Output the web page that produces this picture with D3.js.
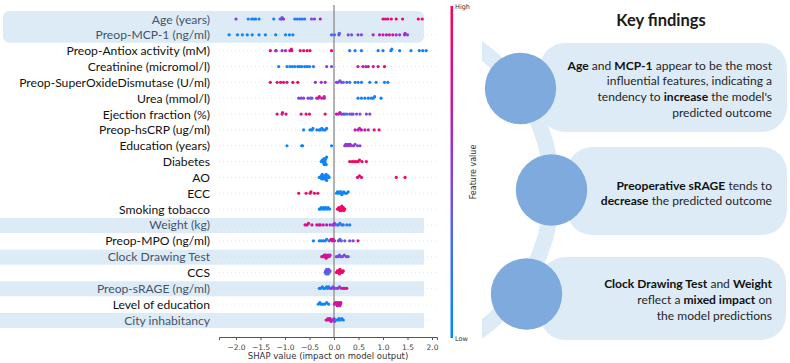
<!DOCTYPE html>
<html lang="en">
<head>
<meta charset="utf-8">
<title>SHAP summary</title>
<script src="https://d3js.org/d3.v7.min.js"></script>
<style>
  body { margin: 0; background: #fff; }
  svg { display: block; font-family: Lato, "Open Sans", sans-serif; }
</style>
</head>
<body>
<svg id="chart" width="790" height="363"></svg>
<script>
// Features, top to bottom
const features = [
  "Age (years)", "Preop-MCP-1 (ng/ml)", "Preop-Antiox activity (mM)", "Creatinine (micromol/l)",
  "Preop-SuperOxideDismutase (U/ml)", "Urea (mmol/l)", "Ejection fraction (%)", "Preop-hsCRP (ug/ml)",
  "Education (years)", "Diabetes", "AO", "ECC", "Smoking tobacco", "Weight (kg)", "Preop-MPO (ng/ml)",
  "Clock Drawing Test", "CCS", "Preop-sRAGE (ng/ml)", "Level of education", "City inhabitancy"
];
const highlighted = ["Age (years)", "Preop-MCP-1 (ng/ml)", "Weight (kg)", "Clock Drawing Test", "Preop-sRAGE (ng/ml)", "City inhabitancy"];

// [shap value, feature value 0..1] per feature
const points = [
  [[-2.0,.5],[-1.75,.1],[-1.68,.1],[-1.64,.15],[-1.6,.1],[-1.53,.1],[-1.23,.15],[-1.1,.35],[-1.07,.5],[-1.06,.15],[-1.03,.6],[-0.8,.15],[-0.75,.2],[-0.7,.1],[-0.65,.2],[-0.6,.15],[-0.46,.45],[-0.4,.5],[-0.28,.7],[1.0,.85],[1.05,.9],[1.1,.85],[1.17,.9],[1.27,.95],[1.4,.9],[1.72,.95],[1.8,.9]],
  [[-2.14,.05],[-1.97,.05],[-1.87,.05],[-1.77,.05],[-1.67,.05],[-1.53,.05],[-1.4,.05],[-1.19,.05],[-0.99,.05],[-0.91,.05],[-0.84,.05],[-0.05,.3],[0.01,.3],[0.1,.45],[0.11,.3],[0.29,.45],[0.36,.4],[0.49,.5],[0.56,.45],[0.8,.6],[0.93,.7],[1.0,.75],[1.07,.7],[1.13,.75],[1.2,.8],[1.27,.6],[1.34,.5],[1.44,.55],[1.45,.6],[1.5,.5]],
  [[-1.3,.85],[-1.19,.7],[-1.18,.55],[-1.06,.55],[-0.99,.6],[-0.9,.8],[-0.87,.75],[-0.86,.85],[-0.69,.9],[-0.62,.85],[-0.55,.9],[-0.49,.85],[-0.05,.85],[0.32,.1],[0.43,.1],[0.56,.05],[0.9,.1],[1.0,.1],[1.16,.05],[1.18,.1],[1.34,.05],[1.57,.05],[1.74,.05],[1.81,.05],[1.88,.05]],
  [[-1.13,.05],[-0.96,.05],[-0.9,.1],[-0.85,.05],[-0.8,.05],[-0.74,.1],[-0.7,.05],[-0.66,.05],[-0.6,.1],[-0.55,.05],[-0.5,.05],[-0.42,.1],[-0.15,.5],[-0.05,.4],[0.49,.7],[0.59,.8],[0.65,.6],[0.7,.75],[0.8,.7],[0.9,.8],[1.03,.95]],
  [[-1.3,.9],[-1.16,.85],[-1.09,.9],[-1.03,.85],[-0.96,.8],[-0.84,.85],[-0.74,.9],[-0.38,.6],[-0.26,.55],[-0.18,.6],[0.05,.5],[0.08,.45],[0.12,.4],[0.15,.45],[0.19,.35],[0.26,.3],[0.32,.2],[0.43,.15],[0.49,.15],[0.56,.1],[0.73,.05],[0.86,.05],[1.03,.05],[1.1,.05]],
  [[-0.72,.45],[-0.67,.5],[-0.62,.55],[-0.53,.4],[-0.48,.5],[-0.45,.35],[-0.35,.8],[-0.32,.6],[-0.3,.85],[-0.25,.7],[-0.2,.8],[-0.2,.6],[0.49,.1],[0.56,.05],[0.63,.1],[0.7,.05],[0.76,.05],[0.8,.1],[0.83,.05],[0.96,.05]],
  [[-1.16,.85],[-1.06,.8],[-1.05,.9],[-0.98,.85],[-0.67,.85],[-0.57,.9],[-0.5,.85],[-0.18,.9],[0.05,.8],[0.09,.7],[0.12,.65],[0.15,.6],[0.19,.55],[0.22,.3],[0.26,.2],[0.32,.4],[0.36,.5],[0.39,.45],[0.46,.4],[0.53,.5],[0.66,.45],[0.73,.5]],
  [[-0.62,.05],[-0.49,.05],[-0.45,.1],[-0.43,.05],[-0.35,.05],[-0.3,.1],[-0.28,.05],[-0.25,.05],[-0.22,.05],[-0.18,.05],[-0.15,.1],[0.43,.7],[0.49,.75],[0.52,.6],[0.56,.8],[0.63,.7],[0.7,.65],[0.82,.85],[0.92,.9]],
  [[-0.96,.05],[-0.66,.05],[-0.64,.1],[-0.05,.05],[0.22,.5],[0.24,.6],[0.26,.45],[0.29,.55],[0.31,.5],[0.33,.65],[0.36,.45],[0.4,.55],[0.43,.5],[0.48,.45],[0.53,.5]],
  [[-0.26,.05],[-0.24,.05],[-0.23,.05],[-0.22,.05],[-0.21,.05],[-0.2,.05],[-0.2,.05],[-0.19,.05],[-0.18,.05],[-0.18,.05],[-0.17,.05],[-0.16,.05],[-0.15,.05],[0.32,.95],[0.37,.95],[0.41,.95],[0.45,.95],[0.49,.95],[0.52,.95],[0.57,.95],[0.66,.95]],
  [[-0.3,.05],[-0.28,.05],[-0.26,.05],[-0.25,.05],[-0.24,.05],[-0.22,.05],[-0.21,.05],[-0.2,.05],[-0.19,.05],[-0.18,.05],[-0.17,.05],[-0.16,.05],[-0.15,.05],[-0.13,.05],[-0.12,.05],[-0.1,.05],[0.48,.85],[0.52,.9],[0.56,.9],[1.27,.95],[1.45,.95]],
  [[-0.72,.9],[-0.57,.9],[-0.49,.85],[-0.47,.9],[-0.4,.9],[-0.33,.9],[0.05,.05],[0.07,.05],[0.09,.05],[0.11,.05],[0.13,.05],[0.14,.05],[0.16,.05],[0.18,.05],[0.2,.05],[0.23,.05],[0.26,.05],[0.29,.05]],
  [[-0.3,.05],[-0.28,.05],[-0.26,.05],[-0.23,.05],[-0.21,.05],[-0.19,.05],[-0.17,.05],[-0.14,.05],[-0.12,.05],[-0.09,.05],[0.07,.95],[0.09,.95],[0.1,.95],[0.12,.95],[0.13,.95],[0.14,.95],[0.15,.95],[0.16,.95],[0.17,.95],[0.19,.95],[0.2,.95],[0.22,.95]],
  [[-0.59,.8],[-0.55,.85],[-0.52,.8],[-0.45,.85],[-0.35,.8],[-0.3,.75],[-0.28,.8],[-0.22,.7],[-0.15,.75],[-0.08,.6],[-0.03,.55],[0.0,.5],[0.01,.6],[0.05,.3],[0.09,.2],[0.12,.15],[0.16,.1],[0.19,.2],[0.26,.15],[0.32,.1]],
  [[-0.42,.05],[-0.3,.1],[-0.26,.05],[-0.22,.1],[-0.18,.05],[-0.15,.1],[-0.1,.3],[-0.06,.8],[-0.04,.75],[-0.02,.85],[0.01,.6],[0.09,.45],[0.12,.3],[0.15,.35],[0.22,.4],[0.32,.45],[0.39,.5],[0.49,.8]],
  [[-0.25,.8],[-0.22,.85],[-0.2,.8],[-0.18,.75],[-0.17,.8],[-0.16,.85],[-0.14,.8],[-0.12,.75],[-0.1,.8],[-0.08,.7],[0.05,.45],[0.08,.5],[0.11,.4],[0.14,.45],[0.17,.4],[0.21,.5],[0.25,.45],[0.29,.4]],
  [[-0.18,.3],[-0.17,.45],[-0.16,.3],[-0.15,.35],[-0.14,.3],[-0.13,.45],[-0.12,.3],[-0.11,.35],[-0.1,.3],[-0.08,.4],[0.05,.9],[0.07,.95],[0.08,.9],[0.1,.95],[0.11,.9],[0.12,.95],[0.14,.9],[0.15,.95],[0.17,.9],[0.19,.95]],
  [[-0.3,.05],[-0.27,.05],[-0.24,.1],[-0.21,.05],[-0.18,.05],[-0.15,.1],[-0.13,.05],[-0.11,.05],[-0.08,.4],[-0.05,.5],[-0.02,.45],[0.0,.55],[0.04,.4],[0.08,.5],[0.11,.45],[0.15,.7],[0.19,.8],[0.22,.75],[0.26,.8]],
  [[-0.32,.05],[-0.29,.05],[-0.26,.05],[-0.23,.05],[-0.19,.05],[-0.15,.05],[-0.11,.05],[0.01,.7],[0.03,.8],[0.05,.6],[0.06,.75],[0.07,.85],[0.09,.7],[0.1,.8],[0.12,.65],[0.13,.75],[0.14,.8]],
  [[-0.16,.8],[-0.14,.85],[-0.12,.8],[-0.1,.75],[-0.08,.8],[-0.06,.7],[-0.04,.65],[-0.01,.6],[0.0,.5],[0.01,.45],[0.05,.05],[0.08,.05],[0.1,.1],[0.13,.05],[0.16,.05],[0.19,.05]]
];

const xTicks = [-2.0, -1.5, -1.0, -0.5, 0.0, 0.5, 1.0, 1.5, 2.0];

const findings = [
  [[["Age",1],[" and ",0],["MCP-1",1],[" appear to be the most",0]],
   [["influential features, indicating a",0]],
   [["tendency to ",0],["increase",1],[" the model's",0]],
   [["predicted outcome",0]]],
  [[["Preoperative sRAGE",1],[" tends to",0]],
   [["decrease",1],[" the predicted outcome",0]]],
  [[["Clock Drawing Test",1],[" and ",0],["Weight",1]],
   [["reflect a ",0],["mixed impact",1],[" on",0]],
   [["the model predictions",0]]]
];

const svg = d3.select("#chart");

// Font fit: match the longest label's width in the reference
const probe = svg.append("text").style("font-size", "100px").text("Preop-SuperOxideDismutase (U/ml)");
const k = 191 / probe.node().getComputedTextLength() * 100 / 14;
probe.remove();
const fs = s => (s * k).toFixed(2) + "px";

// Scales
const x = d3.scaleLinear().domain([-2.347, 2.102]).range([219, 437]);
const y = d3.scalePoint().domain(features).range([19, 320]);
const color = d3.scaleLinear()
  .domain([0, 0.3, 0.5, 0.7, 1])
  .range(["#008bfb", "#4b67f2", "#8a3fd9", "#c21aae", "#ff0052"]);

// Highlight bands
svg.append("rect")
  .attr("x", 3).attr("y", y(features[0]) - 8)
  .attr("width", 421).attr("height", y(features[1]) - y(features[0]) + 16)
  .attr("rx", 6).attr("fill", "#ddebf7");
svg.selectAll(".band")
  .data(highlighted.slice(2))
  .join("rect")
  .attr("x", 0).attr("y", d => y(d) - 7)
  .attr("width", 424).attr("height", 15)
  .attr("fill", "#ddebf7");

// Row grid lines
svg.selectAll(".row-line")
  .data(features)
  .join("line")
  .attr("x1", 219).attr("x2", 437)
  .attr("y1", d => y(d)).attr("y2", d => y(d))
  .attr("stroke", "#cccccc").attr("stroke-width", 0.5)
  .attr("stroke-dasharray", "1,3");

// Zero line
svg.append("line")
  .attr("x1", x(0)).attr("x2", x(0))
  .attr("y1", 5).attr("y2", 337)
  .attr("stroke", "#999").attr("stroke-width", 1.5);

// Feature labels
svg.selectAll(".label")
  .data(features)
  .join("text")
  .attr("x", 210).attr("y", d => y(d) + 4.5)
  .attr("text-anchor", "end")
  .style("font-size", fs(14))
  .attr("fill", d => highlighted.includes(d) ? "#44546a" : "#111")
  .text(d => d);

// Beeswarm
function swarm(pts, cy) {
  const binW = 2.2, step = 1.5;
  const items = pts.map(p => ({ v: p[0], c: p[1], px: x(p[0]) }));
  const bins = d3.group(items, d => Math.round(d.px / binW));
  const out = [];
  for (const [, g] of bins) {
    g.forEach((d, i) => {
      const layer = Math.ceil(i / 2) * (i % 2 ? -1 : 1);
      out.push({ ...d, py: cy + layer * step });
    });
  }
  return out;
}

features.forEach((f, i) => {
  svg.append("g")
    .selectAll("circle")
    .data(swarm(points[i], y(f)))
    .join("circle")
    .attr("cx", d => d.px).attr("cy", d => d.py)
    .attr("r", 1.6)
    .attr("fill", d => color(d.c));
});

// X axis
const axis = svg.append("g")
  .attr("transform", "translate(0,337)")
  .call(d3.axisBottom(x).tickValues(xTicks).tickSize(3).tickFormat(d => d3.format(".1f")(d).replace("-", "\u2212")));
axis.select(".domain").attr("stroke", "#555");
axis.selectAll(".tick line").attr("stroke", "#555");
axis.selectAll(".tick text").attr("fill", "#444").style("font-size", "7.5px").attr("dy", "0.9em")
  .style("font-family", "'DejaVu Sans', sans-serif");

svg.append("text")
  .attr("x", 328).attr("y", 359)
  .attr("text-anchor", "middle")
  .style("font-family", "'DejaVu Sans', sans-serif")
  .style("font-size", "8.5px").attr("fill", "#333")
  .text("SHAP value (impact on model output)");

// Colour bar
const grad = svg.append("defs").append("linearGradient")
  .attr("id", "cbar").attr("x1", 0).attr("x2", 0).attr("y1", 1).attr("y2", 0);
grad.selectAll("stop")
  .data(d3.range(0, 1.001, 0.1))
  .join("stop")
  .attr("offset", d => d)
  .attr("stop-color", d => color(d));
svg.append("rect")
  .attr("x", 450.5).attr("y", 6).attr("width", 2.5).attr("height", 332)
  .attr("fill", "url(#cbar)");
svg.append("text").attr("x", 455).attr("y", 9)
  .style("font-family", "'DejaVu Sans', sans-serif").style("font-size", "6.5px").attr("fill", "#333").text("High");
svg.append("text").attr("x", 455).attr("y", 341)
  .style("font-family", "'DejaVu Sans', sans-serif").style("font-size", "6.5px").attr("fill", "#333").text("Low");
svg.append("text")
  .attr("transform", "translate(476,172) rotate(-90)")
  .attr("text-anchor", "middle")
  .style("font-family", "'DejaVu Sans', sans-serif").style("font-size", "8px").attr("fill", "#333")
  .text("Feature value");

// Key findings panel
svg.append("clipPath").attr("id", "arcclip")
  .append("rect").attr("x", 482).attr("y", 0).attr("width", 308).attr("height", 363);
svg.append("circle")
  .attr("cx", 379).attr("cy", 190).attr("r", 173)
  .attr("fill", "none").attr("stroke", "#ddebf7").attr("stroke-width", 16)
  .attr("clip-path", "url(#arcclip)");

const boxes = [
  { x: 540, y: 43, w: 247, h: 89 },
  { x: 567, y: 147, w: 220, h: 88 },
  { x: 540, y: 257, w: 246, h: 83 }
];
const dots = [[520.5, 88.5], [551.5, 190], [526.5, 294]];
const lineY = [[69.5, 85.3, 101, 117], [189.5, 205], [288, 303.5, 319.5]];

svg.selectAll(".box")
  .data(boxes)
  .join("rect")
  .attr("x", d => d.x).attr("y", d => d.y)
  .attr("width", d => d.w).attr("height", d => d.h)
  .attr("rx", 25).attr("fill", "#ddebf7");

svg.selectAll(".dot")
  .data(dots)
  .join("circle")
  .attr("cx", d => d[0]).attr("cy", d => d[1]).attr("r", 35.7)
  .attr("fill", "#7faadd");

svg.append("text")
  .attr("x", 661).attr("y", 26)
  .attr("text-anchor", "middle")
  .style("font-size", fs(19)).style("font-weight", "bold")
  .attr("fill", "#1a1a1a")
  .text("Key findings");

findings.forEach((block, b) => {
  block.forEach((line, l) => {
    const t = svg.append("text")
      .attr("x", 772).attr("y", lineY[b][l])
      .attr("text-anchor", "end")
      .style("font-size", fs(13.9))
      .attr("fill", "#262626");
    line.forEach(([s, bold]) => {
      t.append("tspan").style("font-weight", bold ? "bold" : "normal").attr("fill", bold ? "#111" : "#262626").text(s);
    });
  });
});
</script>
</body>
</html>
